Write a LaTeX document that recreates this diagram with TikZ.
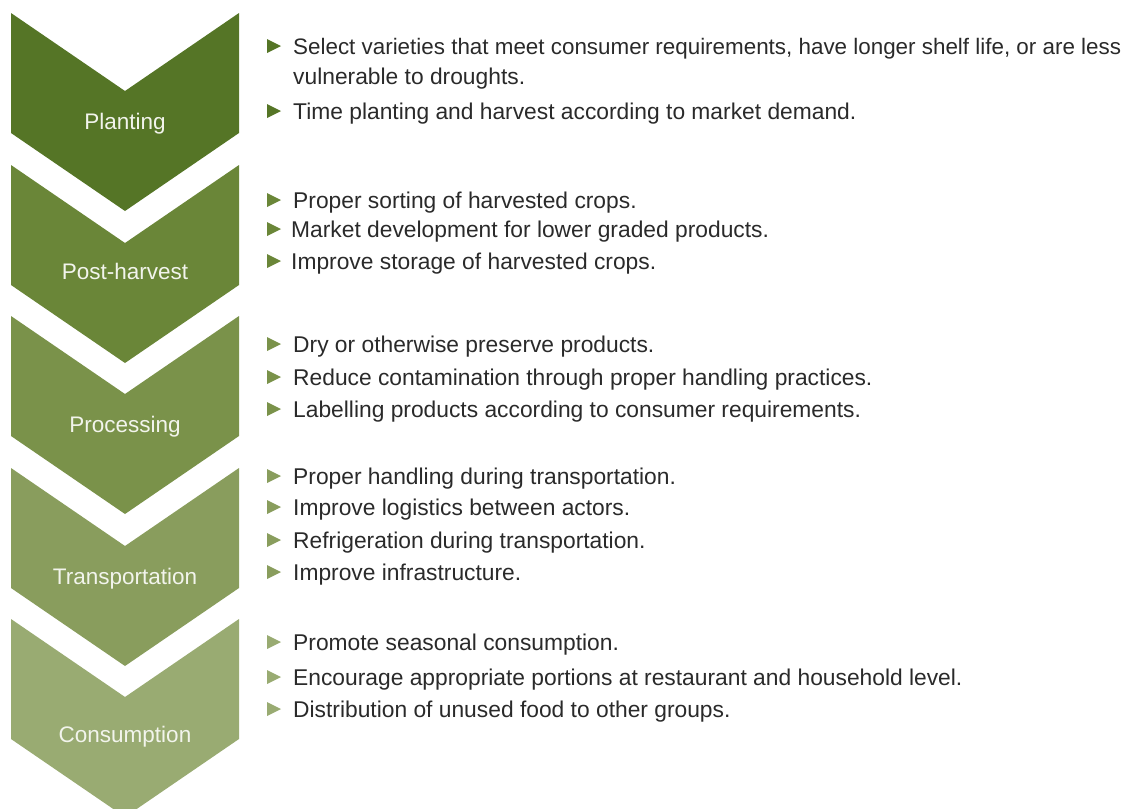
\documentclass[tikz,border=0pt]{standalone}
\usepackage{fontspec}
\setmainfont{Liberation Sans}
\definecolor{cA}{HTML}{557526}
\definecolor{cB}{HTML}{6A8638}
\definecolor{cC}{HTML}{7A924A}
\definecolor{cD}{HTML}{899D5D}
\definecolor{cE}{HTML}{99AB72}
\definecolor{bodytext}{HTML}{2A2A2A}
\definecolor{labtext}{HTML}{F2F4EC}
\newcommand{\chev}[2]{\fill[#1] (11,#2) -- (125,#2+78) -- (239,#2) -- (239,#2+120) -- (125,#2+198) -- (11,#2+120) -- cycle;}
\newcommand{\bul}[2]{\fill[#1] (267,#2-15) -- (281,#2-8) -- (267,#2-1) -- cycle;}
\tikzset{
  lab/.style={anchor=base, text=labtext, font=\fontsize{22.5}{26}\selectfont, inner sep=0pt},
  item/.style={anchor=base west, text=bodytext, font=\fontsize{22.8}{27}\selectfont, inner sep=0pt},
  longitem/.style={item, font=\fontsize{22.4}{27}\selectfont}
}
\begin{document}
\begin{tikzpicture}[x=1pt,y=-1pt]
\useasboundingbox (0,0) rectangle (1136,809);
\clip (0,0) rectangle (1136,809);
\chev{cA}{13}
\chev{cB}{165}
\chev{cC}{316}
\chev{cD}{468}
\chev{cE}{619}
\node[lab] (planting) at (125,129) {Planting};
\node[lab] (post) at (125,279) {Post-harvest};
\node[lab] (proc) at (125,432) {Processing};
\node[lab] (trans) at (125,584) {Transportation};
\node[lab] (cons) at (125,742) {Consumption};
% Planting
\bul{cA}{54}\node[longitem] (a1) at (293,54) {Select varieties that meet consumer requirements, have longer shelf life, or are less};
\node[item] (a1b) at (293,84) {vulnerable to droughts.};
\bul{cA}{119}\node[item] (a2) at (293,119) {Time planting and harvest according to market demand.};
% Post-harvest
\bul{cB}{208}\node[item] (b1) at (293,208) {Proper sorting of harvested crops.};
\bul{cB}{237}\node[item] (b2) at (291,237) {Market development for lower graded products.};
\bul{cB}{269}\node[item] (b3) at (291,269) {Improve storage of harvested crops.};
% Processing
\bul{cC}{352}\node[item] (c1) at (293,352) {Dry or otherwise preserve products.};
\bul{cC}{385}\node[item] (c2) at (293,385) {Reduce contamination through proper handling practices.};
\bul{cC}{417}\node[item] (c3) at (293,417) {Labelling products according to consumer requirements.};
% Transportation
\bul{cD}{484}\node[item] (d1) at (293,484) {Proper handling during transportation.};
\bul{cD}{515}\node[item] (d2) at (293,515) {Improve logistics between actors.};
\bul{cD}{548}\node[item] (d3) at (293,548) {Refrigeration during transportation.};
\bul{cD}{580}\node[item] (d4) at (293,580) {Improve infrastructure.};
% Consumption
\bul{cE}{650}\node[item] (e1) at (293,650) {Promote seasonal consumption.};
\bul{cE}{685}\node[item] (e2) at (293,685) {Encourage appropriate portions at restaurant and household level.};
\bul{cE}{717}\node[item] (e3) at (293,717) {Distribution of unused food to other groups.};
\end{tikzpicture}
\end{document}
